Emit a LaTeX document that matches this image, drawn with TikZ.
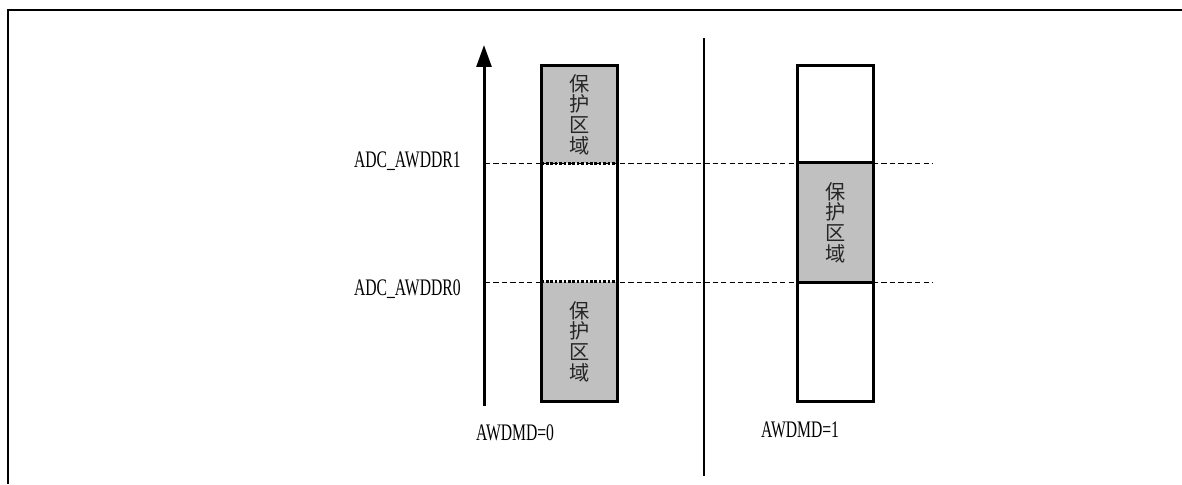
\documentclass[tikz,border=0pt]{standalone}
\usepackage{fontspec}
\usetikzlibrary{arrows.meta}
\newfontfamily\cjk{Noto Sans CJK SC}
\newfontfamily\regfont[FakeStretch=0.66]{Liberation Serif}
\definecolor{guardGray}{HTML}{C0C0C0}

\begin{document}
\begin{tikzpicture}[x=0.02cm,y=-0.02cm,>=Latex]
\tikzstyle{zone}=[inner sep=0pt,minimum width=1.5cm,align=center,font=\cjk\fontsize{11.5}{11.8}\selectfont,text=black!85]
\tikzstyle{lbl}=[inner sep=0pt,font=\regfont\fontsize{13.5}{14}\selectfont]
\tikzstyle{thr}=[line width=0.55pt,dash pattern=on 3pt off 1.8pt]
\tikzstyle{boxline}=[line width=1.7pt]
\tikzstyle{dotline}=[line width=1.8pt,dash pattern=on 1.5pt off 1pt]
\useasboundingbox (0,0) rectangle (1182,484);
% frame
\draw[line width=1.7pt] (1182,10) -- (8,10) -- (8,484);
% threshold lines
\coordinate (hiL) at (485,163); \coordinate (hiR) at (932,163);
\coordinate (loL) at (485,282); \coordinate (loR) at (932,282);
\draw[thr] (hiL) -- (hiR);
\draw[thr] (loL) -- (loR);
\node[lbl,anchor=east] (r1) at (461,161) {ADC\_AWDDR1};
\node[lbl,anchor=east] (r0) at (461,289) {ADC\_AWDDR0};
% axis and separator
\coordinate (ax0) at (484,406); \coordinate (ax1) at (484,45);
\draw[-{Triangle[width=8.5pt,length=12.5pt]},line width=1.7pt] (ax0) -- (ax1);
\coordinate (sep0) at (704,38); \coordinate (sep1) at (704,476);
\draw[line width=0.6pt] (sep0) -- (sep1);
% AWDMD=0
\node[zone,fill=guardGray,minimum height=1.94cm] (lt) at (579.5,114.5) {保\\护\\区\\域};
\node[zone,minimum height=2.38cm] (lm) at (579.5,222.5) {};
\node[zone,fill=guardGray,minimum height=2.38cm] (lb) at (579.5,341.5) {保\\护\\区\\域};
\draw[boxline] (lt.north west) rectangle (lb.south east);
\draw[dotline] (lt.south west) -- (lt.south east);
\draw[dotline] (lb.north west) -- (lb.north east);
\node[lbl] (m0) at (515,433) {AWDMD=0};
% AWDMD=1
\node[zone,minimum height=1.94cm] (rt) at (835.5,114.5) {};
\node[zone,fill=guardGray,minimum height=2.38cm] (rm) at (835.5,222.5) {保\\护\\区\\域};
\node[zone,minimum height=2.38cm] (rb) at (835.5,341.5) {};
\draw[boxline] (rt.north west) rectangle (rb.south east);
\draw[boxline] (rm.north west) -- (rm.north east);
\draw[boxline] (rm.south west) -- (rm.south east);
\node[lbl] (m1) at (800,430) {AWDMD=1};
\end{tikzpicture}
\end{document}
